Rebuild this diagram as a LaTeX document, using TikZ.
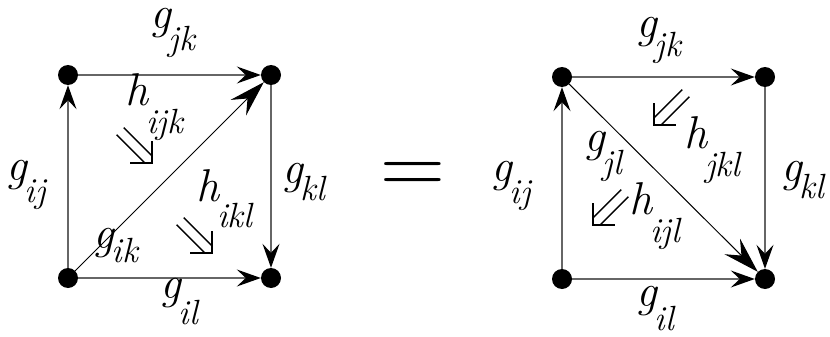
\documentclass[tikz,border=0pt]{standalone}
\usetikzlibrary{arrows.meta}

\definecolor{edgegray}{gray}{0.4}

% label with a dropped subscript
\newcommand{\lab}[3][22pt]{\itshape\fontsize{46pt}{46pt}\selectfont #2\kern-2pt\raisebox{-#1}{\fontsize{35pt}{35pt}\selectfont #3}}

\tikzset{
  pics/twocell/.style={code={
    \draw[line width=1.5pt] (-45,5) -- (-5,5);
    \draw[line width=1.5pt] (-45,-5) -- (-5,-5);
    \draw[line width=1.5pt] (-15.5,15.5) -- (0,0) -- (-15.5,-15.5);
  }},
}

\begin{document}
\begin{tikzpicture}[
  x=1pt, y=-1pt,
  every node/.style={inner sep=0pt},
  dot/.style={circle, fill, minimum size=20pt},
  lbl/.style={anchor=base west},
  side/.style={draw=edgegray, line width=1.5pt, -{Stealth[length=24pt, width=17pt, inset=9pt, color=black]}},
  diag/.style={draw=black, line width=1pt, -{Stealth[length=36pt, width=22pt, inset=13pt]}},
]
\useasboundingbox (0,0) rectangle (830,337);

% ---- left square -----------------------------------------------------
\node[dot] (li) at (68,278) {};
\node[dot] (lj) at (68,75)  {};
\node[dot] (lk) at (271,75) {};
\node[dot] (ll) at (271,278) {};

\draw[side] (li) -- (lj);
\draw[side] (lj) -- (lk);
\draw[side] (lk) -- (ll);
\draw[side] (li) -- (ll);
\draw[diag] (li) -- (lk);

\node[lbl] (lgjk) at (150,29)  {\lab{g}{jk}};
\node[lbl] (lgij) at (6,180)   {\lab{g}{ij}};
\node[lbl] (lgkl) at (282,183) {\lab[17pt]{g}{kl}};
\node[lbl] (lgil) at (160,298) {\lab[26pt]{g}{il}};
\node[lbl] (lgik) at (93,248)  {\lab[14pt]{g}{ik}};
\node[lbl] (lhijk) at (125,106) {\lab[28pt]{h}{ijk}};
\node[lbl] (lhikl) at (196,201) {\lab[26pt]{h}{ikl}};

\pic[rotate=-45] at (152,163) {twocell};
\pic[rotate=-45] at (212,253) {twocell};

% ---- equals ------------------------------------------------------------
\node (eq) at (413,178) {\fontsize{90pt}{90pt}\selectfont =};

% ---- right square ----------------------------------------------------
\node[dot] (ri) at (562,279) {};
\node[dot] (rj) at (562,77)  {};
\node[dot] (rk) at (765,77)  {};
\node[dot] (rl) at (765,279) {};

\draw[side] (ri) -- (rj);
\draw[side] (rj) -- (rk);
\draw[side] (rk) -- (rl);
\draw[side] (ri) -- (rl);
\draw[diag] (rj) -- (rl);

\node[lbl] (rgjk) at (636,38)  {\lab[19pt]{g}{jk}};
\node[lbl] (rgij) at (491,181) {\lab{g}{ij}};
\node[lbl] (rgkl) at (781,181) {\lab[17pt]{g}{kl}};
\node[lbl] (rgil) at (636,306) {\lab[24pt]{g}{il}};
\node[lbl] (rgjl) at (584,151) {\lab[23pt]{g}{jl}};
\node[lbl] (rhjkl) at (684,148) {\lab[28pt]{h}{jkl}};
\node[lbl] (rhijl) at (629,214) {\lab[28pt]{h}{ijl}};

\pic[rotate=-135] at (654,125) {twocell};
\pic[rotate=-135] at (593,225) {twocell};

\end{tikzpicture}
\end{document}
